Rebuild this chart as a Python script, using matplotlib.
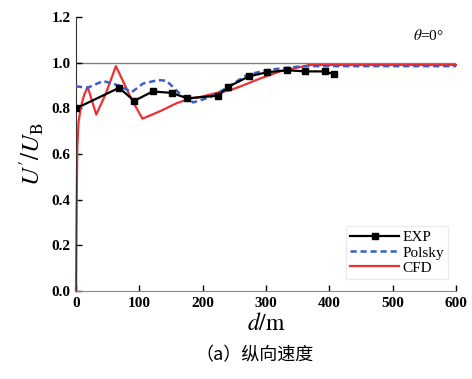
import numpy as np
import matplotlib
matplotlib.use("Agg")
import matplotlib.pyplot as plt

plt.rcParams["mathtext.fontset"] = "stix"

# --- data
exp_d = [0, 68, 92, 121, 151, 176, 225, 240, 273, 301, 333, 362, 393, 407]
exp_v = [0.80, 0.89, 0.833, 0.874, 0.868, 0.844, 0.856, 0.894, 0.94, 0.958, 0.967, 0.962, 0.962, 0.95]

pol_d = [0, 18, 43, 68, 88, 106, 130, 143, 164, 185, 212, 238, 270, 301, 320, 360, 400, 600]
pol_v = [0.897, 0.89, 0.92, 0.90, 0.871, 0.909, 0.924, 0.921, 0.864, 0.826, 0.849, 0.89, 0.947, 0.967, 0.974, 0.985, 0.985, 0.985]

cfd_d = [0, 1, 2, 4, 8, 13, 18.5, 32, 47, 63, 76, 89, 105, 133, 159, 180, 196, 227, 243, 264, 290, 322, 369, 600]
cfd_v = [0.0, 0.35, 0.62, 0.74, 0.81, 0.86, 0.894, 0.773, 0.864, 0.985, 0.909, 0.833, 0.755, 0.788, 0.823, 0.843, 0.85, 0.871, 0.879, 0.901, 0.93, 0.962, 0.99, 0.99]

xticks = [0, 100, 200, 300, 400, 500, 600]
yticks = [0.0, 0.2, 0.4, 0.6, 0.8, 1.0, 1.2]

serif = "Liberation Serif"

fig = plt.figure(figsize=(4.72, 3.79), dpi=100)
ax = fig.add_axes([0.161, 0.232, 0.805, 0.723])

ax.axhline(1.0, color="#808080", lw=1.0, zorder=1)
ax.plot(exp_d, exp_v, color="black", lw=1.6, marker="s", ms=3.8, label="EXP", zorder=4)
ax.plot(pol_d, pol_v, color="#3a5fc8", lw=1.8, ls=(0, (2.5, 1.5)), label="Polsky", zorder=3)
ax.plot(cfd_d, cfd_v, color="#f03030", lw=1.6, label="CFD", zorder=2, clip_on=False)

ax.set_xlim(0, 600)
ax.set_ylim(0, 1.2)
ax.set_xticks(xticks)
ax.set_yticks(yticks)
ax.set_yticklabels(["%.1f" % v for v in yticks])
for s in ["top", "right"]:
    ax.spines[s].set_visible(False)
ax.spines["left"].set_color("#333333")
ax.spines["bottom"].set_color("#888888")
ax.tick_params(direction="in", length=4, width=1, pad=4)
for lab in ax.get_xticklabels() + ax.get_yticklabels():
    lab.set_fontfamily(serif)
    lab.set_fontweight("bold")
    lab.set_fontsize(11)

ax.set_ylabel(r"$U'/U_\mathrm{B}$", fontsize=18, labelpad=4)
ax.set_xlabel(r"$d/\mathrm{m}$", fontsize=17, labelpad=1)

ax.text(556, 1.12, r"$\theta$=0°", fontsize=11, family=serif, ha="center", va="center")

leg = ax.legend(loc="lower right", bbox_to_anchor=(1.0, 0.015), prop={"family": serif, "size": 11},
                handlelength=3.2, handletextpad=0.2, labelspacing=0.1, borderpad=0.3,
                frameon=True, fancybox=False, edgecolor="#e6e6e6")

fig.text(0.54, 0.063, "（a）纵向速度", fontsize=13, ha="center", va="center",
         family=["Noto Sans CJK SC", "DejaVu Sans"])

fig.savefig("out.png", dpi=100)
